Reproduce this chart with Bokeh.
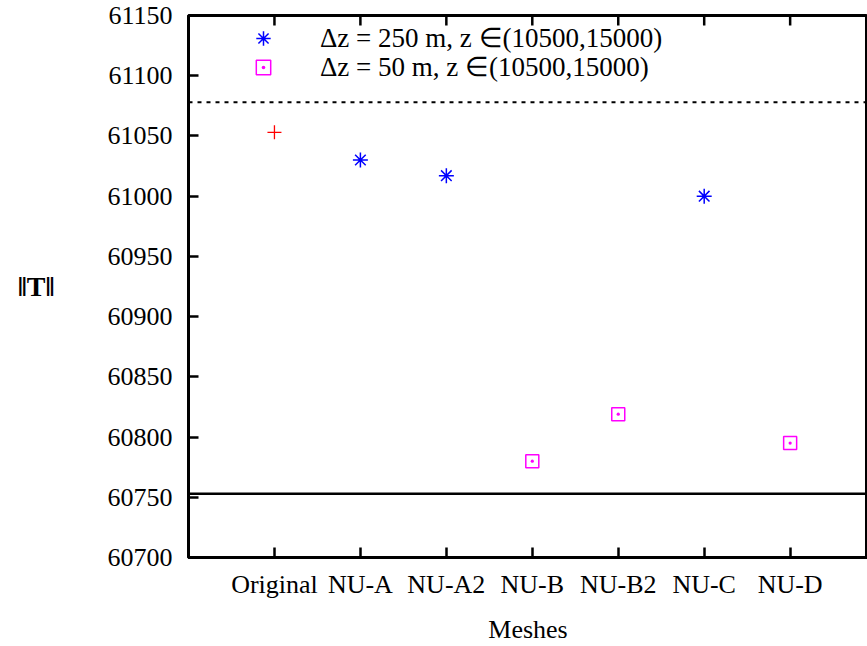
from bokeh.plotting import figure
from bokeh.models import FixedTicker, Span, Range1d, Legend, LegendItem
from bokeh.embed import file_html
from bokeh.resources import INLINE

# ---- data ----
meshes = ["Original", "NU-A", "NU-A2", "NU-B", "NU-B2", "NU-C", "NU-D"]
mesh_pos = [1, 2, 3, 4, 5, 6, 7]
original_x = [1]
original_y = [61053]
dz250_x = [2, 3, 6]
dz250_y = [61030, 61017, 61000]
dz50_x = [4, 5, 7]
dz50_y = [60780, 60819, 60795]
ref_dotted = 61078
ref_solid = 60753
y_ticks = [60700, 60750, 60800, 60850, 60900, 60950, 61000, 61050, 61100, 61150]
label_250 = "\u0394z = 250 m, z \u2208(10500,15000)"
label_50 = "\u0394z = 50 m, z \u2208(10500,15000)"

FONT = "Liberation Serif"
FS = "26px"

y_lo, y_hi = y_ticks[0], y_ticks[-1]
FRAME_H = 543  # pixels of the plot frame height

p = figure(width=867, height=646, output_backend="svg", toolbar_location=None,
           x_range=Range1d(0, 7.9), y_range=Range1d(y_lo, y_hi),
           min_border_left=188, min_border_top=15, min_border_bottom=88,
           min_border_right=0)
p.background_fill_color = "white"
p.border_fill_color = "white"
p.grid.visible = False
p.outline_line_color = "black"
p.outline_line_width = 3

for ax in (p.xaxis[0], p.yaxis[0]):
    ax.axis_line_color = "black"
    ax.axis_line_width = 3
    ax.major_tick_in = 10
    ax.major_tick_out = 0
    ax.major_tick_line_width = 2.5
    ax.major_tick_line_color = "black"
    ax.minor_tick_line_color = None
    ax.major_label_text_font = FONT
    ax.major_label_text_font_size = FS
    ax.major_label_text_color = "black"
    ax.axis_label_text_font = FONT
    ax.axis_label_text_font_size = FS
    ax.axis_label_text_font_style = "normal"
    ax.axis_label_text_color = "black"

p.xaxis.ticker = FixedTicker(ticks=mesh_pos)
p.xaxis.major_label_overrides = {i: m for i, m in zip(mesh_pos, meshes)}
p.xaxis.major_label_standoff = 12
p.xaxis.axis_label = "Meshes"
p.xaxis.axis_label_standoff = 13

p.yaxis.ticker = FixedTicker(ticks=y_ticks)
p.yaxis.major_label_standoff = 16
p.yaxis.axis_label = "\u2016T\u2016"
p.yaxis.axis_label_text_font_style = "bold"
p.yaxis.axis_label_text_font_size = "28px"
p.yaxis.axis_label_orientation = "horizontal"
p.yaxis.axis_label_standoff = 50

# mirrored top ticks (pointing inward from the top border, 10 px long)
tick_len = (y_hi - y_lo) * 10 / FRAME_H
p.segment(x0=mesh_pos, y0=[y_hi] * len(mesh_pos), x1=mesh_pos,
          y1=[y_hi - tick_len] * len(mesh_pos), line_color="black", line_width=2.5)

# reference lines
p.add_layout(Span(location=ref_dotted, dimension="width", line_color="black",
                  line_width=2, line_dash="4 5"))
p.add_layout(Span(location=ref_solid, dimension="width", line_color="black",
                  line_width=2.5))

# points
p.scatter(original_x, original_y, marker="cross", size=14, line_color="red",
          line_width=1.3)
r250 = p.scatter(dz250_x, dz250_y, marker="asterisk", size=15, line_color="blue",
                 line_width=1.5)
r50 = p.scatter(dz50_x, dz50_y, marker="square_dot", size=13, line_color="magenta",
                fill_color=None, line_width=1.5)


def make_legend(label, renderer, loc):
    lg = Legend(items=[LegendItem(label=label, renderers=[renderer])], location=loc)
    lg.border_line_color = None
    lg.background_fill_alpha = 0
    lg.padding = 0
    lg.margin = 0
    lg.spacing = 0
    lg.glyph_width = 36
    lg.glyph_height = 36
    lg.label_height = 36
    lg.label_standoff = 39
    lg.label_text_font = FONT
    lg.label_text_font_size = "27px"
    lg.label_text_color = "black"
    lg.label_text_baseline = "middle"
    return lg


p.add_layout(make_legend(label_250, r250, (57, 501)), "center")
p.add_layout(make_legend(label_50, r50, (57, 472)), "center")

open("out.html", "w").write(file_html(p, INLINE))
